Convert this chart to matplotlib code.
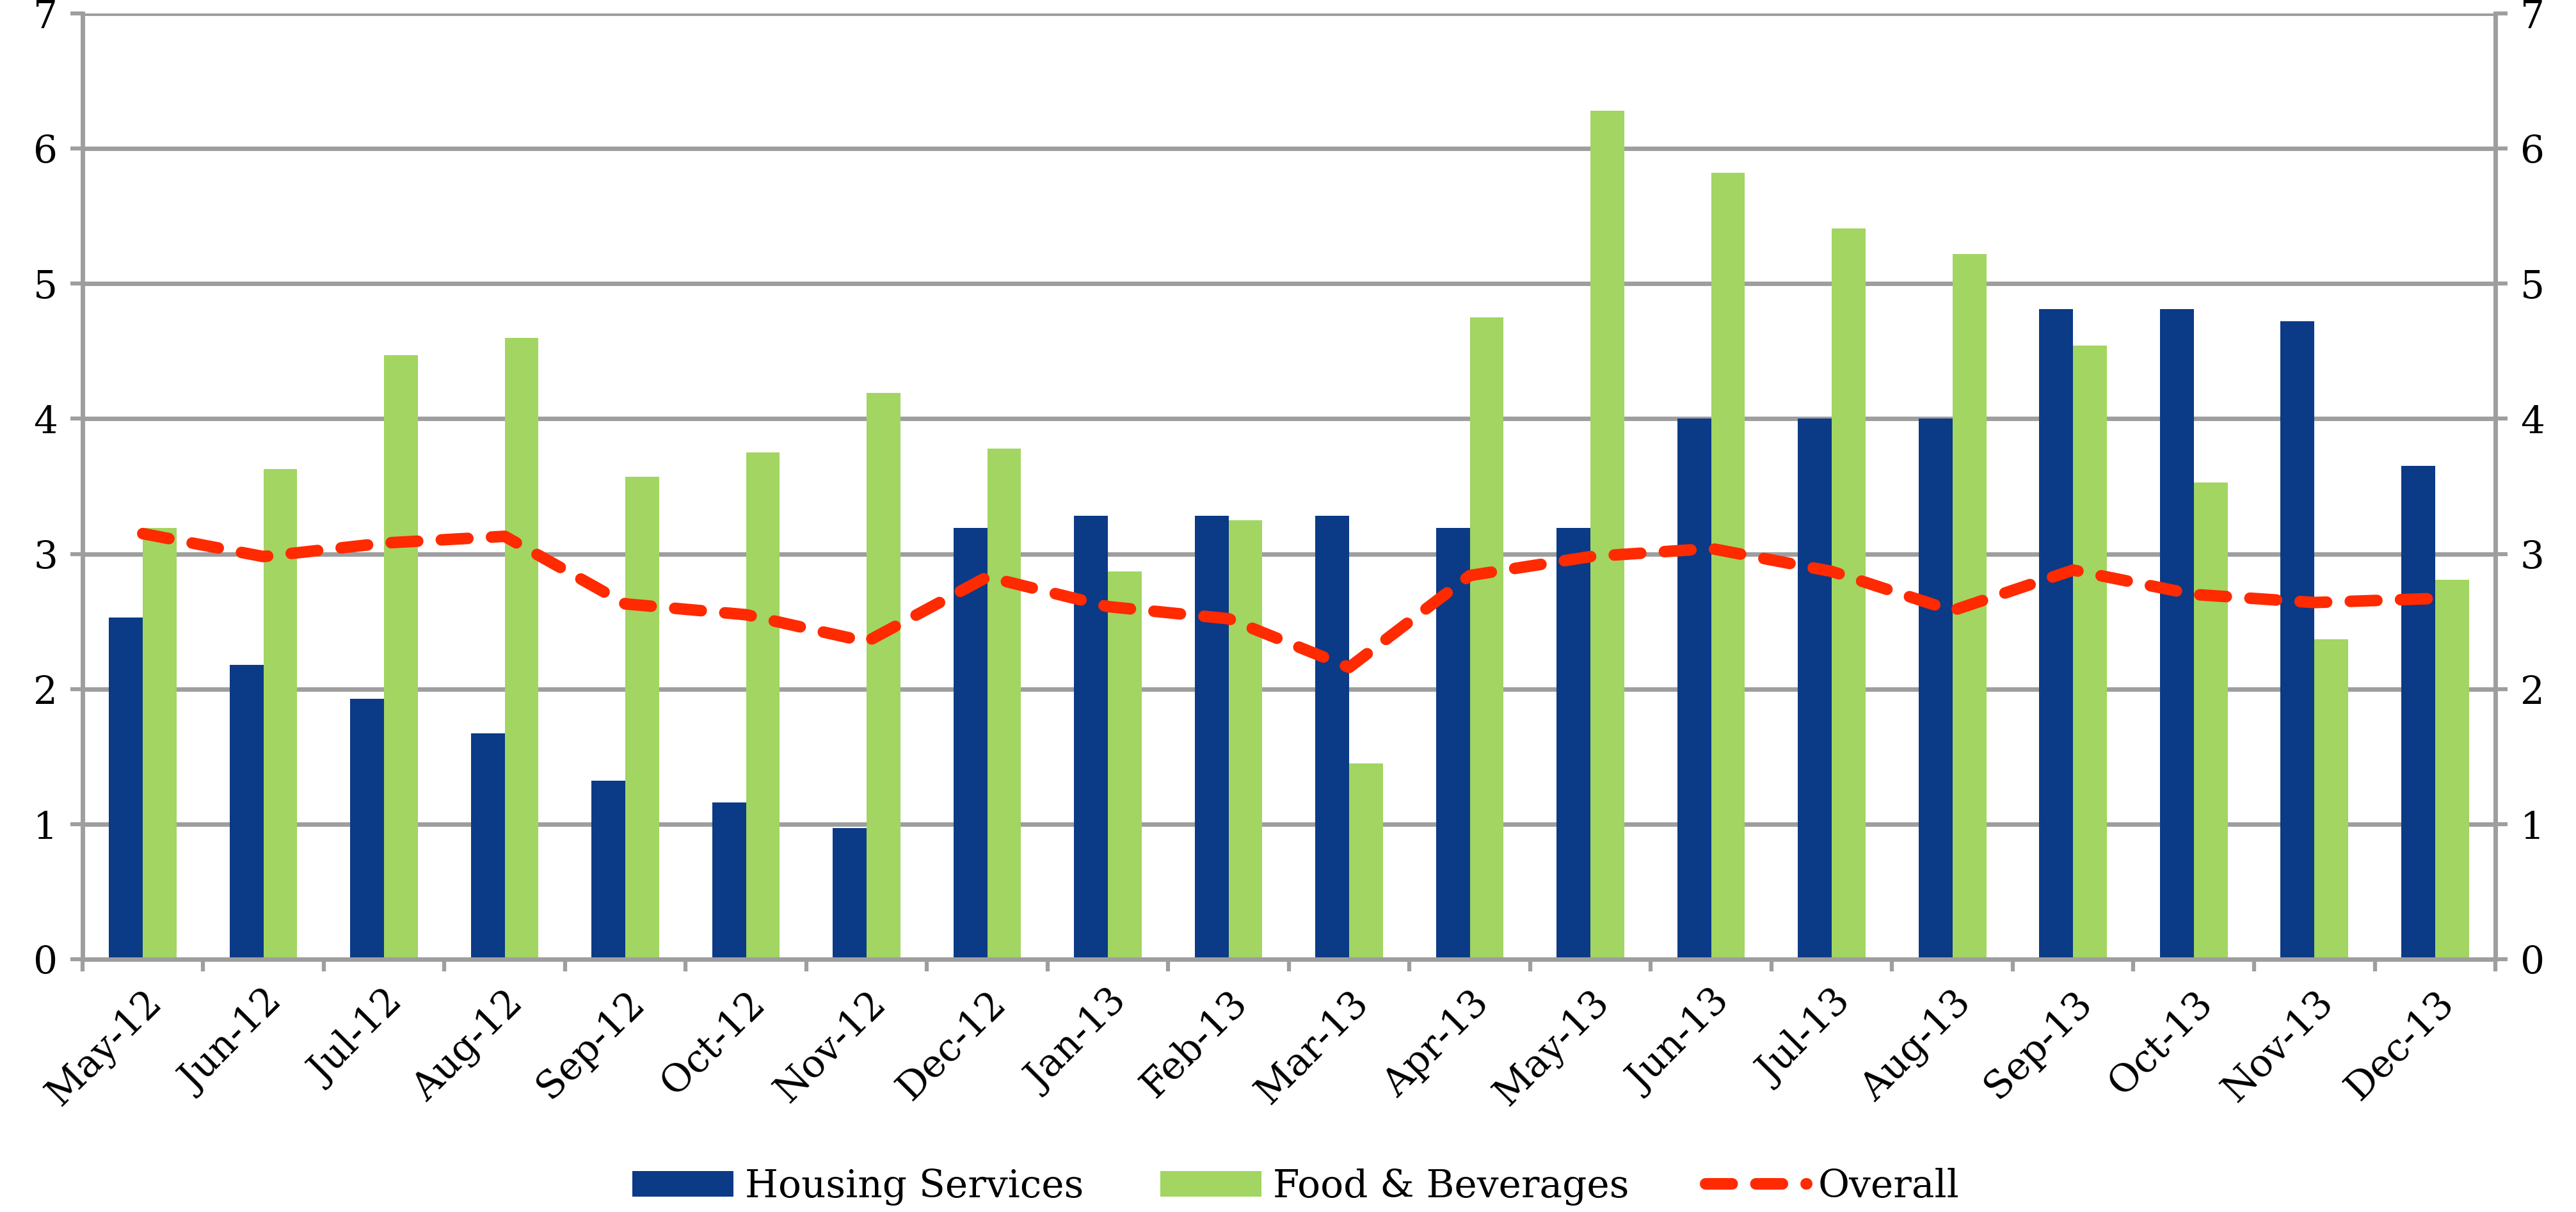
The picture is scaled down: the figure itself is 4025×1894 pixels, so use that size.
import matplotlib
matplotlib.use("Agg")
import matplotlib.pyplot as plt
import numpy as np

months = ["May-12", "Jun-12", "Jul-12", "Aug-12", "Sep-12", "Oct-12", "Nov-12", "Dec-12",
          "Jan-13", "Feb-13", "Mar-13", "Apr-13", "May-13", "Jun-13", "Jul-13", "Aug-13",
          "Sep-13", "Oct-13", "Nov-13", "Dec-13"]
housing = [2.53, 2.18, 1.93, 1.67, 1.32, 1.16, 0.97, 3.19, 3.28, 3.28, 3.28, 3.19, 3.19,
           4.00, 4.00, 4.00, 4.81, 4.81, 4.72, 3.65]
food = [3.19, 3.63, 4.47, 4.60, 3.57, 3.75, 4.19, 3.78, 2.87, 3.25, 1.45, 4.75, 6.28,
        5.82, 5.41, 5.22, 4.54, 3.53, 2.37, 2.81]
overall = [3.15, 2.98, 3.08, 3.13, 2.63, 2.55, 2.35, 2.83, 2.61, 2.52, 2.16, 2.84, 2.98,
           3.04, 2.87, 2.58, 2.88, 2.70, 2.64, 2.67]
yticks = [0, 1, 2, 3, 4, 5, 6, 7]

plt.rcParams['font.family'] = ['DejaVu Serif']
FS = 43
GRID = '#9e9e9e'

fig = plt.figure(figsize=(40.25, 18.94), dpi=100)
ax = fig.add_axes([0.032, 0.2085, 0.9367, 0.7805])
x = np.arange(len(months))
w = 0.28
b1 = ax.bar(x - w / 2, housing, w, color='#0b3a87', label='Housing Services', zorder=2)
b2 = ax.bar(x + w / 2, food, w, color='#a2d562', label='Food & Beverages', zorder=2)
ln, = ax.plot(x, overall, color='#ff2a00', lw=13, dashes=(2.3, 2.05), dash_capstyle='round',
              solid_capstyle='round', label='Overall', zorder=3)

ax.set_xlim(-0.5, len(months) - 0.5)
ax.set_ylim(0, 7)
ax.set_yticks(yticks)
ax.set_yticklabels([str(v) for v in yticks], fontsize=FS)
ax.yaxis.grid(True, color=GRID, lw=5, zorder=0)
ax.set_axisbelow(True)
ax.set_xticks(np.arange(-0.5, len(months), 1.0))
ax.set_xticklabels([])
ax.set_xticks(x, minor=True)
ax.set_xticklabels(months, minor=True, rotation=45, ha='right', rotation_mode='anchor', fontsize=FS)
ax.tick_params(axis='x', which='minor', length=0, pad=28)
ax.tick_params(axis='x', which='major', length=14, width=4.5, color=GRID, direction='out')
ax.tick_params(axis='y', length=14, width=4.5, color=GRID, direction='out', pad=14)
for s in ['left', 'right', 'bottom']:
    ax.spines[s].set_color(GRID)
    ax.spines[s].set_linewidth(5)
ax.spines['top'].set_visible(False)

ax2 = ax.twinx()
ax2.set_ylim(0, 7)
ax2.set_yticks(yticks)
ax2.set_yticklabels([str(v) for v in yticks], fontsize=FS)
ax2.tick_params(axis='y', length=14, width=4.5, color=GRID, direction='out', pad=14)
for s in ax2.spines.values():
    s.set_visible(False)

fig.legend([b1, b2, ln], ['Housing Services', 'Food & Beverages', 'Overall'],
           loc='center', bbox_to_anchor=(0.503, 0.021), ncol=3, frameon=False,
           fontsize=FS, handlelength=2.65, handleheight=0.65, columnspacing=2.0,
           handletextpad=0.3, borderpad=0)

fig.savefig('out.png', dpi=100, facecolor='white')
